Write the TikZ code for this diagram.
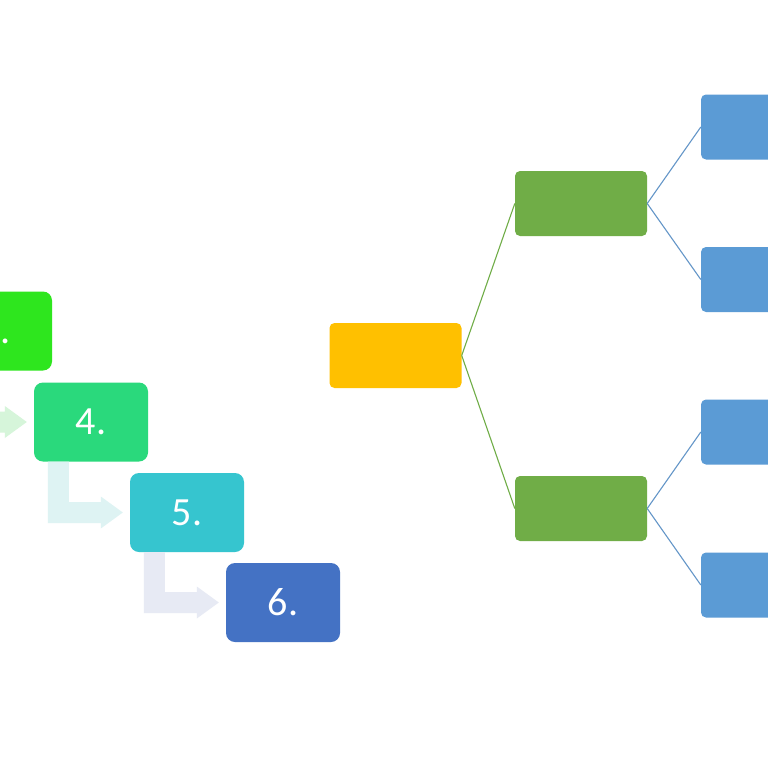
\documentclass[tikz,border=0pt]{standalone}
\usepackage{fontspec}
\setmainfont{Carlito}
\usetikzlibrary{calc}
\definecolor{cthree}{RGB}{46,230,30}
\definecolor{cfour}{RGB}{42,217,124}
\definecolor{cfive}{RGB}{54,197,207}
\definecolor{csix}{RGB}{68,114,196}
\definecolor{athree}{RGB}{214,245,218}
\definecolor{afour}{RGB}{222,243,243}
\definecolor{afive}{RGB}{231,234,244}
\definecolor{torange}{RGB}{255,192,0}
\definecolor{tgreen}{RGB}{112,173,71}
\definecolor{tblue}{RGB}{91,155,213}
\definecolor{tblueline}{RGB}{100,150,200}
\newcommand\bendarrow[3]{%
  \fill[#3] let \p1=(#1.south west), \p2=(#2.west) in
    (\x1+14pt,\y1) -- (\x1+35pt,\y1) -- (\x1+35pt,\y2+10.5pt) --
    (\x2-29pt,\y2+10.5pt) -- (\x2-29pt,\y2+16pt) -- (\x2-7pt,\y2) --
    (\x2-29pt,\y2-16pt) -- (\x2-29pt,\y2-10.5pt) -- (\x1+14pt,\y2-10.5pt) -- cycle;}
\begin{document}
\begin{tikzpicture}[x=1pt,y=-1pt,
  stepbox/.style={rounded corners=9pt, minimum width=114pt, minimum height=79pt,
    inner sep=0pt, text=white, font=\fontsize{40}{48}\selectfont},
  treebox/.style={rounded corners=5pt, minimum width=132pt, minimum height=65pt, inner sep=0pt},
  tline/.style={line width=1.1pt}]
\useasboundingbox (0,0) rectangle (768,768);
\fill[white] (0,0) rectangle (768,768);
\clip (0,0) rectangle (768,768);
% process steps
\node[stepbox, fill=cthree] (b3) at (-5,331) {\phantom{3}.};
\node[stepbox, fill=cfour] (b4) at (91,422) {4.};
\node[stepbox, fill=cfive] (b5) at (187,512.5) {5.};
\node[stepbox, fill=csix] (b6) at (283,602.5) {6.};
\bendarrow{b3}{b4}{athree}
\bendarrow{b4}{b5}{afour}
\bendarrow{b5}{b6}{afive}
% tree
\node[treebox, fill=torange] (root) at (395.5,355.5) {};
\node[treebox, fill=tgreen] (g1) at (581,203.5) {};
\node[treebox, fill=tgreen] (g2) at (581,508.5) {};
\node[treebox, fill=tblue] (l1) at (767,127) {};
\node[treebox, fill=tblue] (l2) at (767,279.5) {};
\node[treebox, fill=tblue] (l3) at (767,432) {};
\node[treebox, fill=tblue] (l4) at (767,585) {};
\draw[tline, tgreen] (root.east) -- (g1.west);
\draw[tline, tgreen] (root.east) -- (g2.west);
\draw[tline, tblueline] (g1.east) -- (l1.west);
\draw[tline, tblueline] (g1.east) -- (l2.west);
\draw[tline, tblueline] (g2.east) -- (l3.west);
\draw[tline, tblueline] (g2.east) -- (l4.west);
\end{tikzpicture}
\end{document}
